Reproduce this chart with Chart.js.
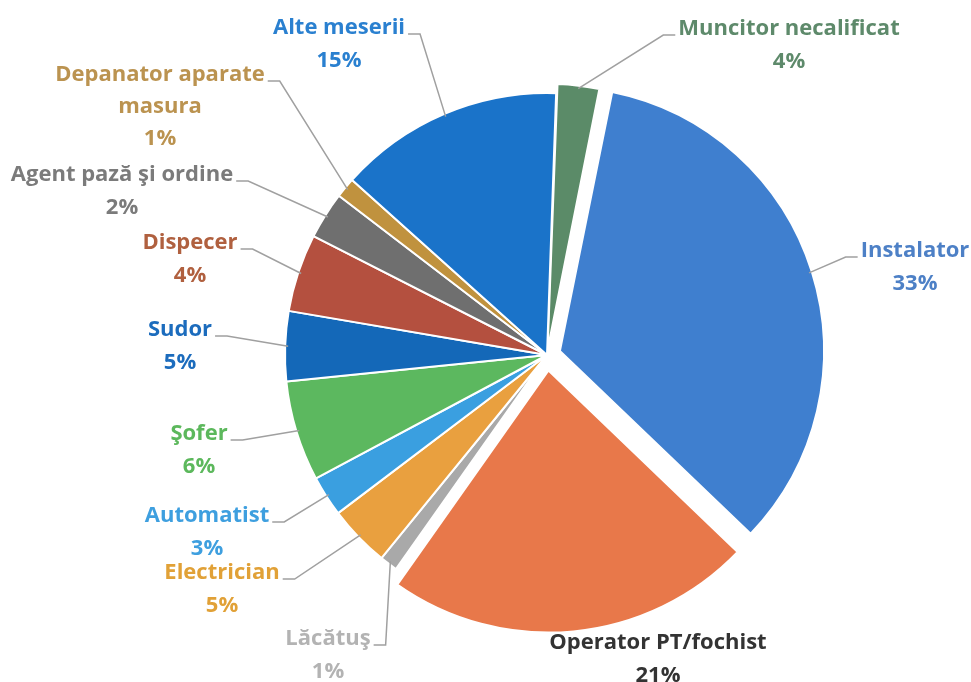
<!DOCTYPE html>
<html>
<head>
<meta charset="utf-8">
<script src="https://cdn.jsdelivr.net/npm/chart.js@4.4.0/dist/chart.umd.min.js"></script>
<style>
  html, body { margin: 0; padding: 0; background: #fff; }
  canvas { display: block; }
</style>
</head>
<body>
<canvas id="chart_0" width="971" height="682"></canvas>
<script>
// slices clockwise from the top
var jobs = ["Muncitor necalificat", "Instalator", "Operator PT/fochist", "Lăcătuş", "Electrician",
            "Automatist", "Şofer", "Sudor", "Dispecer", "Agent pază şi ordine",
            "Depanator aparate masura", "Alte meserii"];
// slice sizes as drawn (percent of the circle)
var shares = [2.6, 34.0, 22.6, 1.1, 3.8, 2.5, 6.2, 4.3, 4.8, 2.9, 1.25, 13.9];
// percentages printed on the chart
var pctLabels = ["4%", "33%", "21%", "1%", "5%", "3%", "6%", "5%", "4%", "2%", "1%", "15%"];

var sliceColors = ["#5b8b68", "#3f7fcf", "#e8784a", "#a9a9a9", "#e9a03f", "#3a9fe0",
                   "#5cb85f", "#1468b8", "#b4503f", "#6f6f6f", "#c0923e", "#1a73c9"];
var textColors = ["#5e8a6b", "#4d80c6", "#333333", "#b3b3b3", "#e1a137", "#3e9fdf",
                  "#5cb85c", "#1c6cbd", "#b0603f", "#7b7b7b", "#bb9350", "#2a80d0"];
var explode = [20, 54, 62, 0, 0, 0, 0, 0, 0, 0, 0, 0];

// where each label sits; side = which end of the text the leader leaves from
var labelPos = [
  {x: 789, y: 29, side: "left"},
  {x: 915, y: 251, side: "left"},
  {x: 658, y: 643, side: null},
  {x: 328, y: 639, side: "right"},
  {x: 222, y: 573, side: "right"},
  {x: 207, y: 516, side: "right"},
  {x: 199, y: 434, side: "right"},
  {x: 180, y: 330, side: "right"},
  {x: 190, y: 243, side: "right"},
  {x: 122, y: 175, side: "right"},
  {x: 160, y: 75, side: "right", wrap: 240},
  {x: 339, y: 28, side: "right"}
];

function wrapText(ctx, text, maxW) {
  if (!maxW) return [text];
  var words = text.split(" "), lines = [], cur = "";
  words.forEach(function (w) {
    var t = cur ? cur + " " + w : w;
    if (ctx.measureText(t).width > maxW && cur) { lines.push(cur); cur = w; }
    else cur = t;
  });
  lines.push(cur);
  return lines;
}

var pieLabels = {
  id: "pieLabels",
  afterDraw: function (chart) {
    var ctx = chart.ctx;
    var arcs = chart.getDatasetMeta(0).data;
    ctx.save();
    ctx.font = "bold 22px 'Open Sans'";
    ctx.textAlign = "center";
    ctx.textBaseline = "middle";
    arcs.forEach(function (arc, i) {
      var p = labelPos[i];
      var lines = wrapText(ctx, jobs[i], p.wrap);
      lines.push(pctLabels[i]);
      var lh = lines.length > 2 ? 32 : 33;

      if (p.side) {
        // point on the outer edge of the slice, at its middle angle
        var a = (arc.startAngle + arc.endAngle) / 2;
        var c = arc.endAngle - arc.startAngle;
        var off = (arc.options.offset || 0) / 4;
        var shift = off + off * (1 - Math.sin(Math.min(Math.PI, c)));
        var r = arc.outerRadius + shift - 3;
        var ax = arc.x + Math.cos(a) * r;
        var ay = arc.y + Math.sin(a) * r;
        var w = ctx.measureText(lines[0]).width;
        var sx, kx;
        if (p.side === "right") { sx = p.x + w / 2 + 3; kx = sx + 12; }
        else { sx = p.x - w / 2 - 3; kx = sx - 12; }
        var sy = p.y + 6;
        ctx.strokeStyle = "#a0a0a0";
        ctx.lineWidth = 1.5;
        ctx.beginPath();
        ctx.moveTo(sx, sy);
        ctx.lineTo(kx, sy);
        ctx.lineTo(ax, ay);
        ctx.stroke();
      }

      ctx.fillStyle = textColors[i];
      lines.forEach(function (t, k) {
        ctx.fillText(t, p.x, p.y + k * lh);
      });
    });
    ctx.restore();
  }
};

new Chart("chart_0", {
  type: "pie",
  data: {
    labels: jobs,
    datasets: [{
      data: shares,
      backgroundColor: sliceColors,
      borderColor: "#ffffff",
      borderWidth: 2,
      offset: explode
    }]
  },
  options: {
    responsive: false,
    animation: false,
    rotation: 2,
    radius: 262,
    layout: { padding: { left: 123, right: 0, top: 28, bottom: 0 } },
    plugins: {
      legend: { display: false },
      tooltip: { enabled: false }
    }
  },
  plugins: [pieLabels]
});
</script>
</body>
</html>
